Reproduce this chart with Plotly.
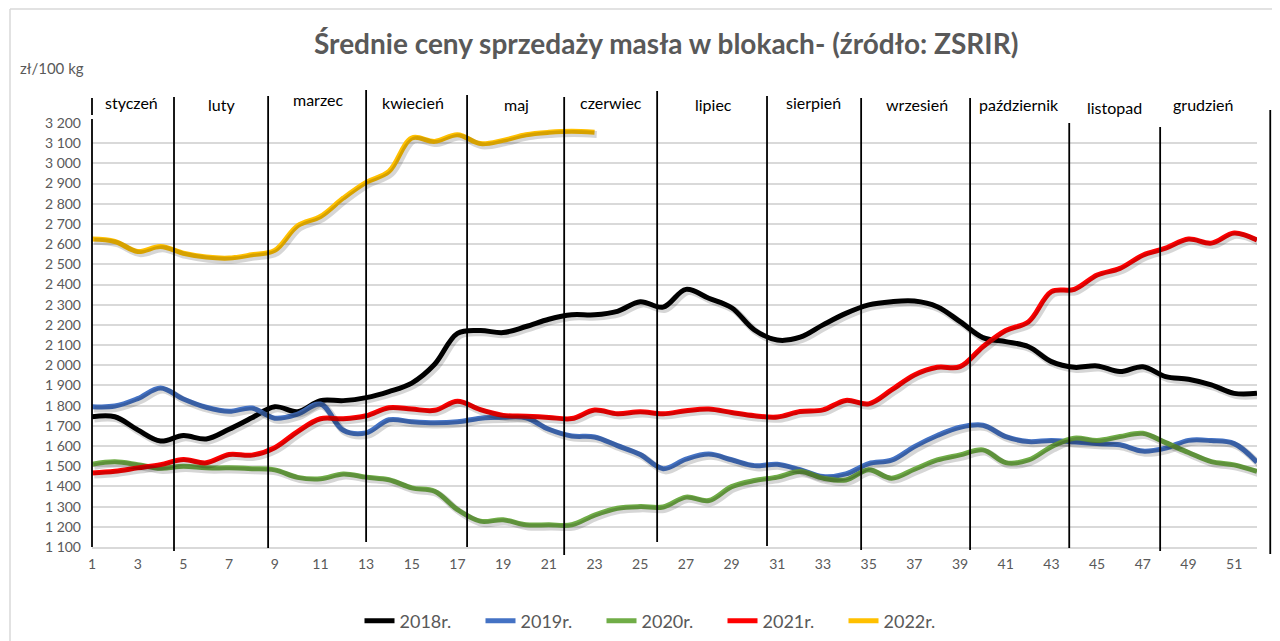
import plotly.graph_objects as go

weeks = list(range(1, 53))

y2018 = [1745, 1745, 1680, 1625, 1652, 1635, 1683, 1740, 1795, 1770,
         1825, 1825, 1840, 1870, 1912, 2005, 2158, 2172, 2162, 2192,
         2228, 2250, 2250, 2267, 2315, 2288, 2376, 2332, 2285, 2175,
         2125, 2139, 2200, 2257, 2299, 2315, 2318, 2290, 2216, 2137,
         2117, 2092, 2018, 1990, 1997, 1969, 1993, 1944, 1931, 1903,
         1861, 1861]
y2019 = [1795, 1798, 1835, 1888, 1833, 1792, 1772, 1788, 1738, 1758,
         1808, 1678, 1665, 1730, 1720, 1715, 1720, 1738, 1743, 1740,
         1683, 1650, 1645, 1602, 1558, 1488, 1535, 1560, 1532, 1503,
         1510, 1483, 1449, 1462, 1513, 1530, 1597, 1652, 1693, 1703,
         1647, 1622, 1628, 1620, 1612, 1606, 1575, 1590, 1628, 1627,
         1612, 1520]
y2020 = [1510, 1522, 1508, 1490, 1500, 1492, 1492, 1488, 1482, 1445,
         1438, 1462, 1446, 1433, 1393, 1376, 1285, 1228, 1235, 1210,
         1210, 1210, 1258, 1292, 1300, 1298, 1347, 1330, 1399, 1429,
         1446, 1474, 1441, 1432, 1482, 1441, 1485, 1531, 1556, 1581,
         1518, 1531, 1597, 1639, 1627, 1647, 1663, 1617, 1568, 1523,
         1507, 1474]
y2021 = [1467, 1475, 1492, 1508, 1533, 1517, 1558, 1555, 1592, 1672,
         1735, 1735, 1750, 1790, 1783, 1777, 1822, 1780, 1752, 1748,
         1742, 1736, 1778, 1760, 1770, 1760, 1775, 1783, 1766, 1750,
         1744, 1771, 1779, 1826, 1809, 1878, 1952, 1990, 1993, 2092,
         2172, 2216, 2365, 2376, 2447, 2480, 2545, 2580, 2625, 2605,
         2655, 2620]
y2022 = [2625, 2613, 2564, 2588, 2555, 2536, 2531, 2547, 2569, 2691,
         2737, 2828, 2906, 2960, 3126, 3109, 3142, 3098, 3114, 3142,
         3154, 3159, 3154]

series_names = ["2018r.", "2019r.", "2020r.", "2021r.", "2022r."]
series_values = [y2018, y2019, y2020, y2021, y2022]
series_colors = ["#000000", "#4472C4", "#70AD47", "#FF0000", "#FFC000"]

month_names = ["styczeń", "luty", "marzec", "kwiecień", "maj", "czerwiec",
               "lipiec", "sierpień", "wrzesień", "październik", "listopad", "grudzień"]
# approximate centre week of each month label
month_label_week = [2.75, 6.69, 10.9, 15.05, 19.6, 23.7, 28.2, 32.6, 37.1, 41.6, 45.75, 49.65]
month_label_y = [103, 104, 100, 102, 105, 102, 105, 102, 104, 105, 107, 105]
# month divider lines: week position, top px, bottom px
divider_week = [4.59, 8.71, 13.0, 17.42, 21.67, 25.74, 30.55, 34.67, 39.44, 43.78, 47.76, 52.58]
divider_top = [97, 96, 90, 95, 97, 91, 96, 98, 98, 123, 127, 110]
divider_bot = [551, 548, 542, 547, 555, 542, 546, 550, 550, 548, 551, 554]

# The page body has an 8px default margin, so the figure is sized to fill
# the window from (8, 8); all pixel references below are window pixels.
OFF = 8
W, H = 1280 - OFF, 641 - OFF
PL, PR, PT, PB = 92, 1257, 123, 547          # plot area in window pixels
ML, MT = PL - OFF, PT - OFF
MR, MB = (OFF + W) - PR, (OFF + H) - PB
PW, PH = PR - PL, PB - PT
XMIN, XMAX = 1, 52
YMIN, YMAX = 1100, 3200

def px_x(px):
    return (px - PL) / PW

def px_y(py):
    return (PB - py) / PH

def wk_x(w):
    return (w - XMIN) / (XMAX - XMIN)

FONT = "Lato, Carlito, Calibri, sans-serif"
GRAY = "#595959"

fig = go.Figure()
# soft drop shadows, drawn on hidden overlay axes shifted ~2px right/down
SH_DX = 2.2 * (XMAX - XMIN) / PW
SH_DY = 2.2 * (YMAX - YMIN) / PH
for vals in series_values:
    fig.add_trace(go.Scatter(
        x=weeks[:len(vals)], y=vals, mode="lines", showlegend=False, hoverinfo="skip",
        line=dict(color="rgba(0,0,0,0.16)", width=7, shape="spline", smoothing=1.0),
        xaxis="x2", yaxis="y2"))
for name, vals, col in zip(series_names, series_values, series_colors):
    fig.add_trace(go.Scatter(
        x=weeks[:len(vals)], y=vals, name=name, mode="lines",
        line=dict(color=col, width=5, shape="spline", smoothing=1.0),
        hoverinfo="x+y+name"))

shapes = []
# left axis line (two segments as in the reference)
shapes.append(dict(type="line", xref="paper", yref="paper", x0=0, x1=0,
                   y0=px_y(98), y1=px_y(115), line=dict(color="black", width=1.8)))
shapes.append(dict(type="line", xref="paper", yref="paper", x0=0, x1=0,
                   y0=px_y(119), y1=px_y(547), line=dict(color="black", width=1.8)))
for w, t, b in zip(divider_week, divider_top, divider_bot):
    shapes.append(dict(type="line", xref="paper", yref="paper",
                       x0=wk_x(w), x1=wk_x(w), y0=px_y(b), y1=px_y(t),
                       line=dict(color="black", width=1.8)))
# outer chart border (left and top)
shapes.append(dict(type="line", xref="paper", yref="paper", x0=px_x(10), x1=px_x(10),
                   y0=px_y(641), y1=px_y(9), line=dict(color="#d9d9d9", width=1.5)))
shapes.append(dict(type="line", xref="paper", yref="paper", x0=px_x(10), x1=px_x(1280),
                   y0=px_y(9), y1=px_y(9), line=dict(color="#d9d9d9", width=1.5)))

annotations = []
for name, w, py in zip(month_names, month_label_week, month_label_y):
    annotations.append(dict(text=name, xref="paper", yref="paper", x=wk_x(w), y=px_y(py),
                            xanchor="center", yanchor="middle", showarrow=False,
                            font=dict(family=FONT, size=16, color="black")))
annotations.append(dict(text="zł/100 kg", xref="paper", yref="paper", x=px_x(18), y=px_y(68),
                        xanchor="left", yanchor="middle", showarrow=False,
                        font=dict(family=FONT, size=15, color=GRAY)))
annotations.append(dict(text="<b>Średnie ceny sprzedaży masła w blokach- (źródło: ZSRIR)</b>",
                        xref="paper", yref="paper", x=px_x(666), y=px_y(43),
                        xanchor="center", yanchor="middle", showarrow=False,
                        font=dict(family=FONT, size=28, color=GRAY)))

fig.update_layout(
    width=W, height=H,
    margin=dict(l=ML, r=MR, t=MT, b=MB, autoexpand=False),
    paper_bgcolor="white", plot_bgcolor="white",
    separators=", ",
    showlegend=True,
    legend=dict(orientation="h", x=px_x(662), y=px_y(621), xanchor="center", yanchor="middle",
                font=dict(family=FONT, size=18, color=GRAY),
                entrywidth=76, entrywidthmode="pixels", bgcolor="rgba(0,0,0,0)"),
    shapes=shapes, annotations=annotations,
    xaxis=dict(range=[XMIN, XMAX], tickmode="array", tickvals=list(range(1, 53, 2)),
               showgrid=False, zeroline=False, showline=True, linecolor="#d9d9d9", linewidth=1.5,
               ticks="", ticklabelstandoff=3,
               tickfont=dict(family=FONT, size=14, color=GRAY)),
    yaxis=dict(range=[YMIN, YMAX], tick0=YMIN, dtick=100, tickformat=",d",
               showgrid=True, gridcolor="#d9d9d9", gridwidth=1.6, zeroline=False,
               showline=False, ticks="", ticklabelstandoff=10,
               tickfont=dict(family=FONT, size=14, color=GRAY)),
    xaxis2=dict(range=[XMIN - SH_DX, XMAX - SH_DX], overlaying="x", visible=False,
                showgrid=False, zeroline=False),
    yaxis2=dict(range=[YMIN + SH_DY, YMAX + SH_DY], overlaying="y", visible=False,
                showgrid=False, zeroline=False),
)

fig.write_html("out.html")
